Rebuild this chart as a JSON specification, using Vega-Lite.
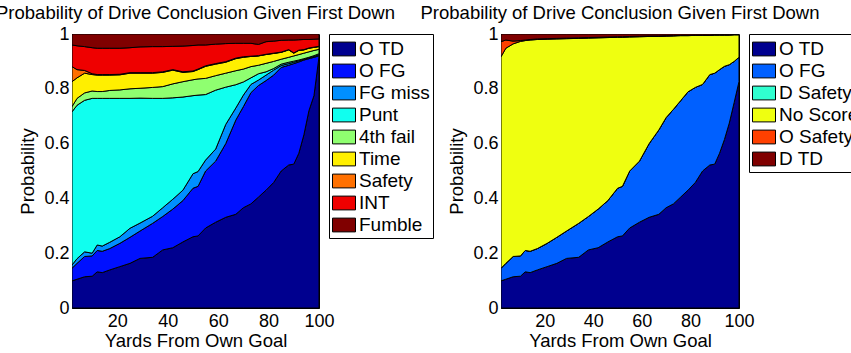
{
"$schema": "https://vega.github.io/schema/vega-lite/v6.json",
"background": "white",
"padding": {"left": -5, "top": 3, "right": -10, "bottom": 0},
"spacing": 182,
"bounds": "flush",
"config": {
 "font": "Liberation Sans",
 "view": {"stroke": "black", "strokeWidth": 1},
 "axis": {"labelFontSize": 18, "titleFontSize": 18.5, "titleFontWeight": "normal", "labelColor": "black", "titleColor": "black", "domainColor": "black", "domainWidth": 1, "ticks": false, "grid": false, "labelFont": "Liberation Sans", "titleFont": "Liberation Sans", "labelFlush": false},
 "title": {"fontSize": 18.5, "fontWeight": "normal", "font": "Liberation Sans", "color": "black", "offset": 3, "anchor": "middle"},
 "legend": {"orient": "right", "offset": 10, "padding": 3, "strokeColor": "black", "strokeWidth": 1, "fillColor": "white", "labelFontSize": 19, "labelFont": "Liberation Sans", "labelColor": "black", "symbolType": "M-1,-0.6H1V0.6H-1Z", "symbolSize": 529, "symbolStrokeColor": "black", "symbolStrokeWidth": 1, "symbolOpacity": 1, "rowPadding": -1.4, "labelOffset": 3, "titlePadding": 0, "labelLimit": 0}
},
"datasets": {
"left": [
{"x":2,"s":"O TD","k":1,"p":0.099},{"x":2,"s":"O FG","k":2,"p":0.046},{"x":2,"s":"FG miss","k":3,"p":0.012},{"x":2,"s":"Punt","k":4,"p":0.559},{"x":2,"s":"4th fail","k":5,"p":0.019},{"x":2,"s":"Time","k":6,"p":0.091},{"x":2,"s":"Safety","k":7,"p":0.055},{"x":2,"s":"INT","k":8,"p":0.079},{"x":2,"s":"Fumble","k":9,"p":0.040},
{"x":4,"s":"O TD","k":1,"p":0.105},{"x":4,"s":"O FG","k":2,"p":0.058},{"x":4,"s":"FG miss","k":3,"p":0.017},{"x":4,"s":"Punt","k":4,"p":0.560},{"x":4,"s":"4th fail","k":5,"p":0.025},{"x":4,"s":"Time","k":6,"p":0.075},{"x":4,"s":"Safety","k":7,"p":0.030},{"x":4,"s":"INT","k":8,"p":0.087},{"x":4,"s":"Fumble","k":9,"p":0.043},
{"x":7,"s":"O TD","k":1,"p":0.114},{"x":7,"s":"O FG","k":2,"p":0.074},{"x":7,"s":"FG miss","k":3,"p":0.017},{"x":7,"s":"Punt","k":4,"p":0.553},{"x":7,"s":"4th fail","k":5,"p":0.027},{"x":7,"s":"Time","k":6,"p":0.072},{"x":7,"s":"Safety","k":7,"p":0.010},{"x":7,"s":"INT","k":8,"p":0.087},{"x":7,"s":"Fumble","k":9,"p":0.046},
{"x":10,"s":"O TD","k":1,"p":0.116},{"x":10,"s":"O FG","k":2,"p":0.074},{"x":10,"s":"FG miss","k":3,"p":0.010},{"x":10,"s":"Punt","k":4,"p":0.565},{"x":10,"s":"4th fail","k":5,"p":0.027},{"x":10,"s":"Time","k":6,"p":0.060},{"x":10,"s":"Safety","k":7,"p":0.003},{"x":10,"s":"INT","k":8,"p":0.095},{"x":10,"s":"Fumble","k":9,"p":0.050},
{"x":12,"s":"O TD","k":1,"p":0.132},{"x":12,"s":"O FG","k":2,"p":0.078},{"x":12,"s":"FG miss","k":3,"p":0.020},{"x":12,"s":"Punt","k":4,"p":0.535},{"x":12,"s":"4th fail","k":5,"p":0.025},{"x":12,"s":"Time","k":6,"p":0.060},{"x":12,"s":"Safety","k":7,"p":0.002},{"x":12,"s":"INT","k":8,"p":0.096},{"x":12,"s":"Fumble","k":9,"p":0.052},
{"x":14,"s":"O TD","k":1,"p":0.129},{"x":14,"s":"O FG","k":2,"p":0.078},{"x":14,"s":"FG miss","k":3,"p":0.019},{"x":14,"s":"Punt","k":4,"p":0.539},{"x":14,"s":"4th fail","k":5,"p":0.025},{"x":14,"s":"Time","k":6,"p":0.060},{"x":14,"s":"Safety","k":7,"p":0.002},{"x":14,"s":"INT","k":8,"p":0.096},{"x":14,"s":"Fumble","k":9,"p":0.052},
{"x":17,"s":"O TD","k":1,"p":0.139},{"x":17,"s":"O FG","k":2,"p":0.078},{"x":17,"s":"FG miss","k":3,"p":0.023},{"x":17,"s":"Punt","k":4,"p":0.525},{"x":17,"s":"4th fail","k":5,"p":0.029},{"x":17,"s":"Time","k":6,"p":0.056},{"x":17,"s":"Safety","k":7,"p":0.002},{"x":17,"s":"INT","k":8,"p":0.096},{"x":17,"s":"Fumble","k":9,"p":0.052},
{"x":21,"s":"O TD","k":1,"p":0.151},{"x":21,"s":"O FG","k":2,"p":0.085},{"x":21,"s":"FG miss","k":3,"p":0.024},{"x":21,"s":"Punt","k":4,"p":0.505},{"x":21,"s":"4th fail","k":5,"p":0.031},{"x":21,"s":"Time","k":6,"p":0.055},{"x":21,"s":"Safety","k":7,"p":0.002},{"x":21,"s":"INT","k":8,"p":0.095},{"x":21,"s":"Fumble","k":9,"p":0.052},
{"x":25,"s":"O TD","k":1,"p":0.163},{"x":25,"s":"O FG","k":2,"p":0.095},{"x":25,"s":"FG miss","k":3,"p":0.033},{"x":25,"s":"Punt","k":4,"p":0.474},{"x":25,"s":"4th fail","k":5,"p":0.035},{"x":25,"s":"Time","k":6,"p":0.057},{"x":25,"s":"Safety","k":7,"p":0.002},{"x":25,"s":"INT","k":8,"p":0.091},{"x":25,"s":"Fumble","k":9,"p":0.050},
{"x":29,"s":"O TD","k":1,"p":0.181},{"x":29,"s":"O FG","k":2,"p":0.100},{"x":29,"s":"FG miss","k":3,"p":0.029},{"x":29,"s":"Punt","k":4,"p":0.456},{"x":29,"s":"4th fail","k":5,"p":0.036},{"x":29,"s":"Time","k":6,"p":0.055},{"x":29,"s":"Safety","k":7,"p":0.002},{"x":29,"s":"INT","k":8,"p":0.094},{"x":29,"s":"Fumble","k":9,"p":0.047},
{"x":34,"s":"O TD","k":1,"p":0.185},{"x":34,"s":"O FG","k":2,"p":0.124},{"x":34,"s":"FG miss","k":3,"p":0.026},{"x":34,"s":"Punt","k":4,"p":0.430},{"x":34,"s":"4th fail","k":5,"p":0.040},{"x":34,"s":"Time","k":6,"p":0.052},{"x":34,"s":"Safety","k":7,"p":0.002},{"x":34,"s":"INT","k":8,"p":0.095},{"x":34,"s":"Fumble","k":9,"p":0.046},
{"x":38,"s":"O TD","k":1,"p":0.212},{"x":38,"s":"O FG","k":2,"p":0.122},{"x":38,"s":"FG miss","k":3,"p":0.032},{"x":38,"s":"Punt","k":4,"p":0.399},{"x":38,"s":"4th fail","k":5,"p":0.043},{"x":38,"s":"Time","k":6,"p":0.052},{"x":38,"s":"Safety","k":7,"p":0.002},{"x":38,"s":"INT","k":8,"p":0.092},{"x":38,"s":"Fumble","k":9,"p":0.046},
{"x":42,"s":"O TD","k":1,"p":0.220},{"x":42,"s":"O FG","k":2,"p":0.141},{"x":42,"s":"FG miss","k":3,"p":0.036},{"x":42,"s":"Punt","k":4,"p":0.370},{"x":42,"s":"4th fail","k":5,"p":0.051},{"x":42,"s":"Time","k":6,"p":0.050},{"x":42,"s":"Safety","k":7,"p":0.002},{"x":42,"s":"INT","k":8,"p":0.085},{"x":42,"s":"Fumble","k":9,"p":0.045},
{"x":46,"s":"O TD","k":1,"p":0.241},{"x":46,"s":"O FG","k":2,"p":0.151},{"x":46,"s":"FG miss","k":3,"p":0.038},{"x":46,"s":"Punt","k":4,"p":0.340},{"x":46,"s":"4th fail","k":5,"p":0.056},{"x":46,"s":"Time","k":6,"p":0.034},{"x":46,"s":"Safety","k":7,"p":0.002},{"x":46,"s":"INT","k":8,"p":0.094},{"x":46,"s":"Fumble","k":9,"p":0.044},
{"x":50,"s":"O TD","k":1,"p":0.260},{"x":50,"s":"O FG","k":2,"p":0.177},{"x":50,"s":"FG miss","k":3,"p":0.053},{"x":50,"s":"Punt","k":4,"p":0.285},{"x":50,"s":"4th fail","k":5,"p":0.058},{"x":50,"s":"Time","k":6,"p":0.030},{"x":50,"s":"Safety","k":7,"p":0.002},{"x":50,"s":"INT","k":8,"p":0.093},{"x":50,"s":"Fumble","k":9,"p":0.042},
{"x":52,"s":"O TD","k":1,"p":0.263},{"x":52,"s":"O FG","k":2,"p":0.181},{"x":52,"s":"FG miss","k":3,"p":0.054},{"x":52,"s":"Punt","k":4,"p":0.279},{"x":52,"s":"4th fail","k":5,"p":0.059},{"x":52,"s":"Time","k":6,"p":0.034},{"x":52,"s":"Safety","k":7,"p":0.002},{"x":52,"s":"INT","k":8,"p":0.088},{"x":52,"s":"Fumble","k":9,"p":0.040},
{"x":55,"s":"O TD","k":1,"p":0.292},{"x":55,"s":"O FG","k":2,"p":0.208},{"x":55,"s":"FG miss","k":3,"p":0.040},{"x":55,"s":"Punt","k":4,"p":0.239},{"x":55,"s":"4th fail","k":5,"p":0.059},{"x":55,"s":"Time","k":6,"p":0.044},{"x":55,"s":"Safety","k":7,"p":0.002},{"x":55,"s":"INT","k":8,"p":0.076},{"x":55,"s":"Fumble","k":9,"p":0.040},
{"x":59,"s":"O TD","k":1,"p":0.313},{"x":59,"s":"O FG","k":2,"p":0.223},{"x":59,"s":"FG miss","k":3,"p":0.044},{"x":59,"s":"Punt","k":4,"p":0.215},{"x":59,"s":"4th fail","k":5,"p":0.053},{"x":59,"s":"Time","k":6,"p":0.042},{"x":59,"s":"Safety","k":7,"p":0.002},{"x":59,"s":"INT","k":8,"p":0.071},{"x":59,"s":"Fumble","k":9,"p":0.037},
{"x":63,"s":"O TD","k":1,"p":0.331},{"x":63,"s":"O FG","k":2,"p":0.269},{"x":63,"s":"FG miss","k":3,"p":0.070},{"x":63,"s":"Punt","k":4,"p":0.136},{"x":63,"s":"4th fail","k":5,"p":0.051},{"x":63,"s":"Time","k":6,"p":0.040},{"x":63,"s":"Safety","k":7,"p":0.002},{"x":63,"s":"INT","k":8,"p":0.066},{"x":63,"s":"Fumble","k":9,"p":0.035},
{"x":67,"s":"O TD","k":1,"p":0.342},{"x":67,"s":"O FG","k":2,"p":0.344},{"x":67,"s":"FG miss","k":3,"p":0.044},{"x":67,"s":"Punt","k":4,"p":0.085},{"x":67,"s":"4th fail","k":5,"p":0.051},{"x":67,"s":"Time","k":6,"p":0.044},{"x":67,"s":"Safety","k":7,"p":0.002},{"x":67,"s":"INT","k":8,"p":0.054},{"x":67,"s":"Fumble","k":9,"p":0.034},
{"x":70,"s":"O TD","k":1,"p":0.366},{"x":70,"s":"O FG","k":2,"p":0.369},{"x":70,"s":"FG miss","k":3,"p":0.042},{"x":70,"s":"Punt","k":4,"p":0.048},{"x":70,"s":"4th fail","k":5,"p":0.047},{"x":70,"s":"Time","k":6,"p":0.043},{"x":70,"s":"Safety","k":7,"p":0.002},{"x":70,"s":"INT","k":8,"p":0.049},{"x":70,"s":"Fumble","k":9,"p":0.034},
{"x":73,"s":"O TD","k":1,"p":0.380},{"x":73,"s":"O FG","k":2,"p":0.406},{"x":73,"s":"FG miss","k":3,"p":0.030},{"x":73,"s":"Punt","k":4,"p":0.024},{"x":73,"s":"4th fail","k":5,"p":0.041},{"x":73,"s":"Time","k":6,"p":0.037},{"x":73,"s":"Safety","k":7,"p":0.001},{"x":73,"s":"INT","k":8,"p":0.047},{"x":73,"s":"Fumble","k":9,"p":0.034},
{"x":76,"s":"O TD","k":1,"p":0.405},{"x":76,"s":"O FG","k":2,"p":0.407},{"x":76,"s":"FG miss","k":3,"p":0.020},{"x":76,"s":"Punt","k":4,"p":0.023},{"x":76,"s":"4th fail","k":5,"p":0.031},{"x":76,"s":"Time","k":6,"p":0.034},{"x":76,"s":"Safety","k":7,"p":0.001},{"x":76,"s":"INT","k":8,"p":0.041},{"x":76,"s":"Fumble","k":9,"p":0.038},
{"x":79,"s":"O TD","k":1,"p":0.430},{"x":79,"s":"O FG","k":2,"p":0.400},{"x":79,"s":"FG miss","k":3,"p":0.020},{"x":79,"s":"Punt","k":4,"p":0.012},{"x":79,"s":"4th fail","k":5,"p":0.031},{"x":79,"s":"Time","k":6,"p":0.032},{"x":79,"s":"Safety","k":7,"p":0.001},{"x":79,"s":"INT","k":8,"p":0.046},{"x":79,"s":"Fumble","k":9,"p":0.028},
{"x":82,"s":"O TD","k":1,"p":0.458},{"x":82,"s":"O FG","k":2,"p":0.392},{"x":82,"s":"FG miss","k":3,"p":0.018},{"x":82,"s":"Punt","k":4,"p":0.006},{"x":82,"s":"4th fail","k":5,"p":0.026},{"x":82,"s":"Time","k":6,"p":0.029},{"x":82,"s":"Safety","k":7,"p":0.001},{"x":82,"s":"INT","k":8,"p":0.044},{"x":82,"s":"Fumble","k":9,"p":0.026},
{"x":85,"s":"O TD","k":1,"p":0.500},{"x":85,"s":"O FG","k":2,"p":0.378},{"x":85,"s":"FG miss","k":3,"p":0.007},{"x":85,"s":"Punt","k":4,"p":0.005},{"x":85,"s":"4th fail","k":5,"p":0.018},{"x":85,"s":"Time","k":6,"p":0.025},{"x":85,"s":"Safety","k":7,"p":0.001},{"x":85,"s":"INT","k":8,"p":0.043},{"x":85,"s":"Fumble","k":9,"p":0.023},
{"x":88,"s":"O TD","k":1,"p":0.522},{"x":88,"s":"O FG","k":2,"p":0.364},{"x":88,"s":"FG miss","k":3,"p":0.006},{"x":88,"s":"Punt","k":4,"p":0.005},{"x":88,"s":"4th fail","k":5,"p":0.018},{"x":88,"s":"Time","k":6,"p":0.027},{"x":88,"s":"Safety","k":7,"p":0.001},{"x":88,"s":"INT","k":8,"p":0.035},{"x":88,"s":"Fumble","k":9,"p":0.022},
{"x":90,"s":"O TD","k":1,"p":0.525},{"x":90,"s":"O FG","k":2,"p":0.367},{"x":90,"s":"FG miss","k":3,"p":0.005},{"x":90,"s":"Punt","k":4,"p":0.004},{"x":90,"s":"4th fail","k":5,"p":0.019},{"x":90,"s":"Time","k":6,"p":0.010},{"x":90,"s":"Safety","k":7,"p":0.001},{"x":90,"s":"INT","k":8,"p":0.047},{"x":90,"s":"Fumble","k":9,"p":0.022},
{"x":92,"s":"O TD","k":1,"p":0.565},{"x":92,"s":"O FG","k":2,"p":0.333},{"x":92,"s":"FG miss","k":3,"p":0.004},{"x":92,"s":"Punt","k":4,"p":0.003},{"x":92,"s":"4th fail","k":5,"p":0.020},{"x":92,"s":"Time","k":6,"p":0.015},{"x":92,"s":"Safety","k":7,"p":0.001},{"x":92,"s":"INT","k":8,"p":0.038},{"x":92,"s":"Fumble","k":9,"p":0.021},
{"x":94,"s":"O TD","k":1,"p":0.632},{"x":94,"s":"O FG","k":2,"p":0.273},{"x":94,"s":"FG miss","k":3,"p":0.003},{"x":94,"s":"Punt","k":4,"p":0.002},{"x":94,"s":"4th fail","k":5,"p":0.020},{"x":94,"s":"Time","k":6,"p":0.012},{"x":94,"s":"Safety","k":7,"p":0.001},{"x":94,"s":"INT","k":8,"p":0.037},{"x":94,"s":"Fumble","k":9,"p":0.020},
{"x":96,"s":"O TD","k":1,"p":0.720},{"x":96,"s":"O FG","k":2,"p":0.190},{"x":96,"s":"FG miss","k":3,"p":0.003},{"x":96,"s":"Punt","k":4,"p":0.002},{"x":96,"s":"4th fail","k":5,"p":0.020},{"x":96,"s":"Time","k":6,"p":0.013},{"x":96,"s":"Safety","k":7,"p":0.001},{"x":96,"s":"INT","k":8,"p":0.031},{"x":96,"s":"Fumble","k":9,"p":0.020},
{"x":98,"s":"O TD","k":1,"p":0.775},{"x":98,"s":"O FG","k":2,"p":0.140},{"x":98,"s":"FG miss","k":3,"p":0.003},{"x":98,"s":"Punt","k":4,"p":0.003},{"x":98,"s":"4th fail","k":5,"p":0.019},{"x":98,"s":"Time","k":6,"p":0.011},{"x":98,"s":"Safety","k":7,"p":0.001},{"x":98,"s":"INT","k":8,"p":0.029},{"x":98,"s":"Fumble","k":9,"p":0.019},
{"x":100,"s":"O TD","k":1,"p":0.917},{"x":100,"s":"O FG","k":2,"p":0.003},{"x":100,"s":"FG miss","k":3,"p":0.004},{"x":100,"s":"Punt","k":4,"p":0.004},{"x":100,"s":"4th fail","k":5,"p":0.016},{"x":100,"s":"Time","k":6,"p":0.010},{"x":100,"s":"Safety","k":7,"p":0.001},{"x":100,"s":"INT","k":8,"p":0.027},{"x":100,"s":"Fumble","k":9,"p":0.018}
],
"right": [
{"x":2,"s":"O TD","k":1,"p":0.099},{"x":2,"s":"O FG","k":2,"p":0.046},{"x":2,"s":"D Safety","k":3,"p":0},{"x":2,"s":"No Score","k":4,"p":0.772},{"x":2,"s":"O Safety","k":5,"p":0.055},{"x":2,"s":"D TD","k":6,"p":0.028},
{"x":4,"s":"O TD","k":1,"p":0.105},{"x":4,"s":"O FG","k":2,"p":0.058},{"x":4,"s":"D Safety","k":3,"p":0},{"x":4,"s":"No Score","k":4,"p":0.785},{"x":4,"s":"O Safety","k":5,"p":0.030},{"x":4,"s":"D TD","k":6,"p":0.022},
{"x":7,"s":"O TD","k":1,"p":0.114},{"x":7,"s":"O FG","k":2,"p":0.074},{"x":7,"s":"D Safety","k":3,"p":0},{"x":7,"s":"No Score","k":4,"p":0.776},{"x":7,"s":"O Safety","k":5,"p":0.010},{"x":7,"s":"D TD","k":6,"p":0.026},
{"x":10,"s":"O TD","k":1,"p":0.116},{"x":10,"s":"O FG","k":2,"p":0.074},{"x":10,"s":"D Safety","k":3,"p":0},{"x":10,"s":"No Score","k":4,"p":0.783},{"x":10,"s":"O Safety","k":5,"p":0.003},{"x":10,"s":"D TD","k":6,"p":0.024},
{"x":12,"s":"O TD","k":1,"p":0.132},{"x":12,"s":"O FG","k":2,"p":0.078},{"x":12,"s":"D Safety","k":3,"p":0},{"x":12,"s":"No Score","k":4,"p":0.766},{"x":12,"s":"O Safety","k":5,"p":0.002},{"x":12,"s":"D TD","k":6,"p":0.022},
{"x":14,"s":"O TD","k":1,"p":0.129},{"x":14,"s":"O FG","k":2,"p":0.078},{"x":14,"s":"D Safety","k":3,"p":0},{"x":14,"s":"No Score","k":4,"p":0.771},{"x":14,"s":"O Safety","k":5,"p":0.002},{"x":14,"s":"D TD","k":6,"p":0.020},
{"x":17,"s":"O TD","k":1,"p":0.139},{"x":17,"s":"O FG","k":2,"p":0.078},{"x":17,"s":"D Safety","k":3,"p":0},{"x":17,"s":"No Score","k":4,"p":0.763},{"x":17,"s":"O Safety","k":5,"p":0.002},{"x":17,"s":"D TD","k":6,"p":0.018},
{"x":21,"s":"O TD","k":1,"p":0.151},{"x":21,"s":"O FG","k":2,"p":0.085},{"x":21,"s":"D Safety","k":3,"p":0},{"x":21,"s":"No Score","k":4,"p":0.745},{"x":21,"s":"O Safety","k":5,"p":0.002},{"x":21,"s":"D TD","k":6,"p":0.017},
{"x":25,"s":"O TD","k":1,"p":0.163},{"x":25,"s":"O FG","k":2,"p":0.095},{"x":25,"s":"D Safety","k":3,"p":0},{"x":25,"s":"No Score","k":4,"p":0.724},{"x":25,"s":"O Safety","k":5,"p":0.002},{"x":25,"s":"D TD","k":6,"p":0.016},
{"x":29,"s":"O TD","k":1,"p":0.181},{"x":29,"s":"O FG","k":2,"p":0.100},{"x":29,"s":"D Safety","k":3,"p":0},{"x":29,"s":"No Score","k":4,"p":0.702},{"x":29,"s":"O Safety","k":5,"p":0.002},{"x":29,"s":"D TD","k":6,"p":0.015},
{"x":34,"s":"O TD","k":1,"p":0.185},{"x":34,"s":"O FG","k":2,"p":0.124},{"x":34,"s":"D Safety","k":3,"p":0},{"x":34,"s":"No Score","k":4,"p":0.675},{"x":34,"s":"O Safety","k":5,"p":0.002},{"x":34,"s":"D TD","k":6,"p":0.014},
{"x":38,"s":"O TD","k":1,"p":0.212},{"x":38,"s":"O FG","k":2,"p":0.122},{"x":38,"s":"D Safety","k":3,"p":0},{"x":38,"s":"No Score","k":4,"p":0.651},{"x":38,"s":"O Safety","k":5,"p":0.002},{"x":38,"s":"D TD","k":6,"p":0.013},
{"x":42,"s":"O TD","k":1,"p":0.220},{"x":42,"s":"O FG","k":2,"p":0.141},{"x":42,"s":"D Safety","k":3,"p":0},{"x":42,"s":"No Score","k":4,"p":0.625},{"x":42,"s":"O Safety","k":5,"p":0.002},{"x":42,"s":"D TD","k":6,"p":0.012},
{"x":46,"s":"O TD","k":1,"p":0.241},{"x":46,"s":"O FG","k":2,"p":0.151},{"x":46,"s":"D Safety","k":3,"p":0},{"x":46,"s":"No Score","k":4,"p":0.595},{"x":46,"s":"O Safety","k":5,"p":0.002},{"x":46,"s":"D TD","k":6,"p":0.011},
{"x":50,"s":"O TD","k":1,"p":0.260},{"x":50,"s":"O FG","k":2,"p":0.177},{"x":50,"s":"D Safety","k":3,"p":0},{"x":50,"s":"No Score","k":4,"p":0.551},{"x":50,"s":"O Safety","k":5,"p":0.002},{"x":50,"s":"D TD","k":6,"p":0.010},
{"x":52,"s":"O TD","k":1,"p":0.263},{"x":52,"s":"O FG","k":2,"p":0.181},{"x":52,"s":"D Safety","k":3,"p":0},{"x":52,"s":"No Score","k":4,"p":0.544},{"x":52,"s":"O Safety","k":5,"p":0.002},{"x":52,"s":"D TD","k":6,"p":0.010},
{"x":55,"s":"O TD","k":1,"p":0.292},{"x":55,"s":"O FG","k":2,"p":0.208},{"x":55,"s":"D Safety","k":3,"p":0},{"x":55,"s":"No Score","k":4,"p":0.489},{"x":55,"s":"O Safety","k":5,"p":0.002},{"x":55,"s":"D TD","k":6,"p":0.009},
{"x":59,"s":"O TD","k":1,"p":0.313},{"x":59,"s":"O FG","k":2,"p":0.223},{"x":59,"s":"D Safety","k":3,"p":0},{"x":59,"s":"No Score","k":4,"p":0.454},{"x":59,"s":"O Safety","k":5,"p":0.002},{"x":59,"s":"D TD","k":6,"p":0.008},
{"x":63,"s":"O TD","k":1,"p":0.331},{"x":63,"s":"O FG","k":2,"p":0.269},{"x":63,"s":"D Safety","k":3,"p":0},{"x":63,"s":"No Score","k":4,"p":0.391},{"x":63,"s":"O Safety","k":5,"p":0.002},{"x":63,"s":"D TD","k":6,"p":0.007},
{"x":67,"s":"O TD","k":1,"p":0.342},{"x":67,"s":"O FG","k":2,"p":0.308},{"x":67,"s":"D Safety","k":3,"p":0},{"x":67,"s":"No Score","k":4,"p":0.341},{"x":67,"s":"O Safety","k":5,"p":0.002},{"x":67,"s":"D TD","k":6,"p":0.007},
{"x":70,"s":"O TD","k":1,"p":0.366},{"x":70,"s":"O FG","k":2,"p":0.329},{"x":70,"s":"D Safety","k":3,"p":0},{"x":70,"s":"No Score","k":4,"p":0.297},{"x":70,"s":"O Safety","k":5,"p":0.002},{"x":70,"s":"D TD","k":6,"p":0.006},
{"x":73,"s":"O TD","k":1,"p":0.380},{"x":73,"s":"O FG","k":2,"p":0.345},{"x":73,"s":"D Safety","k":3,"p":0},{"x":73,"s":"No Score","k":4,"p":0.268},{"x":73,"s":"O Safety","k":5,"p":0.001},{"x":73,"s":"D TD","k":6,"p":0.006},
{"x":76,"s":"O TD","k":1,"p":0.405},{"x":76,"s":"O FG","k":2,"p":0.352},{"x":76,"s":"D Safety","k":3,"p":0},{"x":76,"s":"No Score","k":4,"p":0.237},{"x":76,"s":"O Safety","k":5,"p":0.001},{"x":76,"s":"D TD","k":6,"p":0.005},
{"x":79,"s":"O TD","k":1,"p":0.430},{"x":79,"s":"O FG","k":2,"p":0.359},{"x":79,"s":"D Safety","k":3,"p":0},{"x":79,"s":"No Score","k":4,"p":0.205},{"x":79,"s":"O Safety","k":5,"p":0.001},{"x":79,"s":"D TD","k":6,"p":0.005},
{"x":82,"s":"O TD","k":1,"p":0.458},{"x":82,"s":"O FG","k":2,"p":0.347},{"x":82,"s":"D Safety","k":3,"p":0},{"x":82,"s":"No Score","k":4,"p":0.190},{"x":82,"s":"O Safety","k":5,"p":0.001},{"x":82,"s":"D TD","k":6,"p":0.004},
{"x":85,"s":"O TD","k":1,"p":0.500},{"x":85,"s":"O FG","k":2,"p":0.316},{"x":85,"s":"D Safety","k":3,"p":0},{"x":85,"s":"No Score","k":4,"p":0.179},{"x":85,"s":"O Safety","k":5,"p":0.001},{"x":85,"s":"D TD","k":6,"p":0.004},
{"x":88,"s":"O TD","k":1,"p":0.522},{"x":88,"s":"O FG","k":2,"p":0.330},{"x":88,"s":"D Safety","k":3,"p":0},{"x":88,"s":"No Score","k":4,"p":0.143},{"x":88,"s":"O Safety","k":5,"p":0.001},{"x":88,"s":"D TD","k":6,"p":0.004},
{"x":90,"s":"O TD","k":1,"p":0.525},{"x":90,"s":"O FG","k":2,"p":0.332},{"x":90,"s":"D Safety","k":3,"p":0},{"x":90,"s":"No Score","k":4,"p":0.139},{"x":90,"s":"O Safety","k":5,"p":0.001},{"x":90,"s":"D TD","k":6,"p":0.003},
{"x":92,"s":"O TD","k":1,"p":0.565},{"x":92,"s":"O FG","k":2,"p":0.305},{"x":92,"s":"D Safety","k":3,"p":0},{"x":92,"s":"No Score","k":4,"p":0.126},{"x":92,"s":"O Safety","k":5,"p":0.001},{"x":92,"s":"D TD","k":6,"p":0.003},
{"x":94,"s":"O TD","k":1,"p":0.615},{"x":94,"s":"O FG","k":2,"p":0.267},{"x":94,"s":"D Safety","k":3,"p":0},{"x":94,"s":"No Score","k":4,"p":0.114},{"x":94,"s":"O Safety","k":5,"p":0.001},{"x":94,"s":"D TD","k":6,"p":0.003},
{"x":96,"s":"O TD","k":1,"p":0.675},{"x":96,"s":"O FG","k":2,"p":0.213},{"x":96,"s":"D Safety","k":3,"p":0},{"x":96,"s":"No Score","k":4,"p":0.108},{"x":96,"s":"O Safety","k":5,"p":0.001},{"x":96,"s":"D TD","k":6,"p":0.003},
{"x":98,"s":"O TD","k":1,"p":0.750},{"x":98,"s":"O FG","k":2,"p":0.150},{"x":98,"s":"D Safety","k":3,"p":0},{"x":98,"s":"No Score","k":4,"p":0.097},{"x":98,"s":"O Safety","k":5,"p":0.001},{"x":98,"s":"D TD","k":6,"p":0.002},
{"x":100,"s":"O TD","k":1,"p":0.826},{"x":100,"s":"O FG","k":2,"p":0.089},{"x":100,"s":"D Safety","k":3,"p":0},{"x":100,"s":"No Score","k":4,"p":0.082},{"x":100,"s":"O Safety","k":5,"p":0.001},{"x":100,"s":"D TD","k":6,"p":0.002}
]
},
"resolve": {"scale": {"color": "independent"}, "legend": {"color": "independent"}},
"hconcat": [
{
 "width": 247, "height": 274,
 "title": "Probability of Drive Conclusion Given First Down",
 "data": {"name": "left"},
 "mark": {"type": "area", "stroke": "black", "strokeWidth": 1, "strokeJoin": "round", "clip": true},
 "encoding": {
  "x": {"field": "x", "type": "quantitative", "scale": {"domain": [2, 100], "nice": false, "zero": false}, "axis": {"values": [20, 40, 60, 80, 100], "title": "Yards From Own Goal", "labelPadding": 4, "titlePadding": 1}},
  "y": {"field": "p", "type": "quantitative", "stack": "zero", "scale": {"domain": [0, 1], "nice": false}, "axis": {"values": [0, 0.2, 0.4, 0.6, 0.8, 1], "format": "~g", "title": "Probability", "labelPadding": 3, "titlePadding": 6}},
  "color": {"field": "s", "type": "nominal", "scale": {"domain": ["O TD", "O FG", "FG miss", "Punt", "4th fail", "Time", "Safety", "INT", "Fumble"], "range": ["#00008F", "#0010FF", "#008FFF", "#10FFEF", "#8FFF70", "#FFEF00", "#FF7000", "#EF0000", "#800000"]}, "legend": {"title": null}},
  "order": {"field": "k", "type": "quantitative"}
 }
},
{
 "width": 238, "height": 274,
 "title": "Probability of Drive Conclusion Given First Down",
 "data": {"name": "right"},
 "mark": {"type": "area", "stroke": "black", "strokeWidth": 1, "strokeJoin": "round", "clip": true},
 "encoding": {
  "x": {"field": "x", "type": "quantitative", "scale": {"domain": [2, 100], "nice": false, "zero": false}, "axis": {"values": [20, 40, 60, 80, 100], "title": "Yards From Own Goal", "labelPadding": 4, "titlePadding": 1}},
  "y": {"field": "p", "type": "quantitative", "stack": "zero", "scale": {"domain": [0, 1], "nice": false}, "axis": {"values": [0, 0.2, 0.4, 0.6, 0.8, 1], "format": "~g", "title": "Probability", "labelPadding": 3, "titlePadding": 6}},
  "color": {"field": "s", "type": "nominal", "scale": {"domain": ["O TD", "O FG", "D Safety", "No Score", "O Safety", "D TD"], "range": ["#00008F", "#0060FF", "#30FFD0", "#EFFF10", "#FF4000", "#800000"]}, "legend": {"title": null}},
  "order": {"field": "k", "type": "quantitative"}
 }
}
]
}
